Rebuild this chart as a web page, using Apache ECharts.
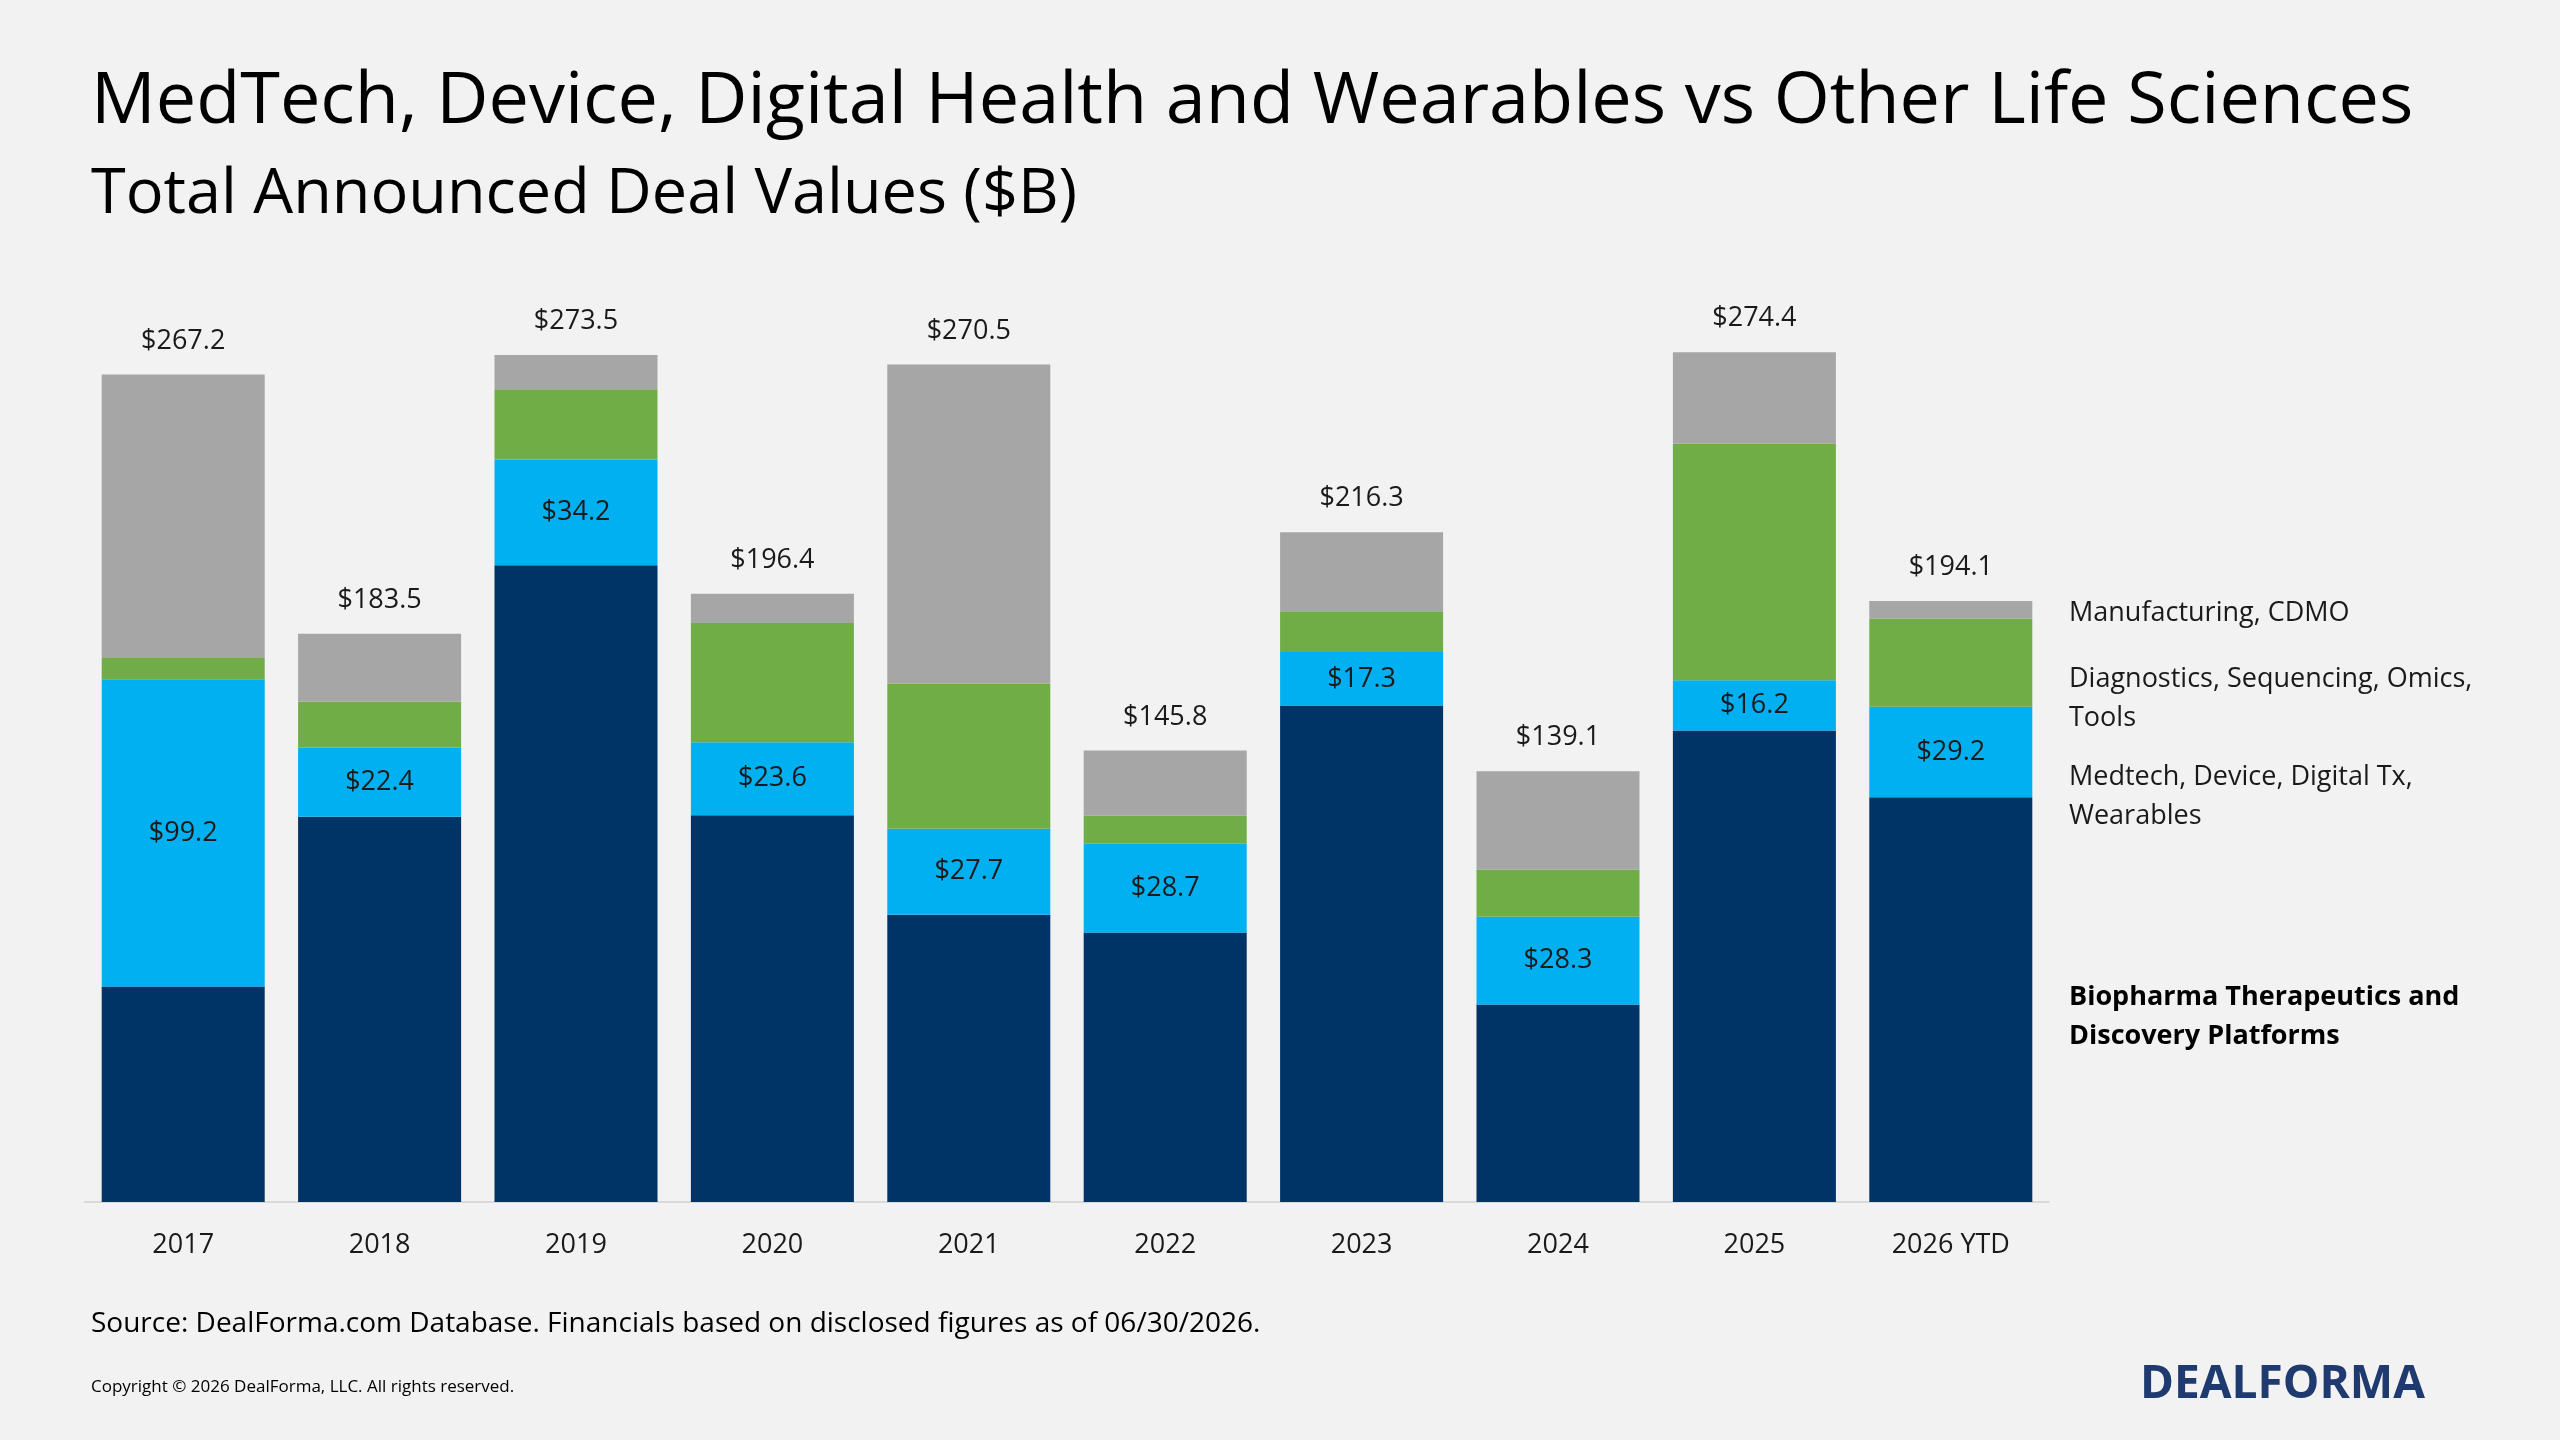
<!DOCTYPE html>
<html><head><meta charset="utf-8">
<script src="https://cdn.jsdelivr.net/npm/echarts@6/dist/echarts.min.js"></script>
<style>html,body{margin:0;background:#f2f2f2}#c{width:2560px;height:1440px}</style>
</head><body><div id="c"></div>
<script>
// data ($B)
const years = ['2017','2018','2019','2020','2021','2022','2023','2024','2025','2026 YTD'];
const biopharma = [69.6,124.4,205.6,124.9,92.8,87.0,160.3,63.8,152.3,130.7];
const medtech = [99.2,22.4,34.2,23.6,27.7,28.7,17.3,28.3,16.2,29.2];
const diagnostics = [6.9,14.8,22.7,38.5,46.9,9.0,13.2,15.3,76.4,28.5];
const manufacturing = [91.5,21.9,11.0,9.4,103.1,21.1,25.5,31.7,29.5,5.7];
const totals = [267.2,183.5,273.5,196.4,270.5,145.8,216.3,139.1,274.4,194.1];

const font = "'Open Sans', Lato, sans-serif";
const chart = echarts.init(document.getElementById('c'));
const lbl = {fontFamily: font, fontSize: 27, color: '#1a1a1a'};

chart.setOption({
  backgroundColor: '#f2f2f2',
  animation: false,
  grid: {left: 85, right: 511, top: 304, bottom: 238},
  xAxis: {
    type: 'category', data: years,
    axisLine: {lineStyle: {color: '#d9d9d9', width: 2}},
    axisTick: {show: false},
    axisLabel: Object.assign({margin: 30}, lbl)
  },
  yAxis: {type: 'value', min: 0, max: 290, show: false},
  series: [
    {name: 'Biopharma', type: 'bar', stack: 't', data: biopharma, barCategoryGap: '17%',
     itemStyle: {color: '#003366'}},
    {name: 'Medtech', type: 'bar', stack: 't', data: medtech, itemStyle: {color: '#00b0f0'},
     label: Object.assign({show: true, position: 'inside', formatter: p => '$' + p.value.toFixed(1)}, lbl)},
    {name: 'Diagnostics', type: 'bar', stack: 't', data: diagnostics, itemStyle: {color: '#70ad47'}},
    {name: 'Manufacturing', type: 'bar', stack: 't', data: manufacturing, itemStyle: {color: '#a6a6a6'},
     label: Object.assign({show: true, position: 'top', distance: 20,
       formatter: p => '$' + totals[p.dataIndex].toFixed(1)}, lbl)}
  ],
  graphic: [
    {type: 'text', left: 91, top: 66, style: {text: 'MedTech, Device, Digital Health and Wearables vs Other Life Sciences', font: '72px ' + font, fill: '#000'}},
    {type: 'text', left: 91, top: 164, style: {text: 'Total Announced Deal Values ($B)', font: '63px ' + font, fill: '#000'}},
    {type: 'text', left: 2069, top: 600, style: {text: 'Manufacturing, CDMO', font: '27px ' + font, fill: '#1a1a1a'}},
    {type: 'text', left: 2069, top: 660, style: {text: 'Diagnostics, Sequencing, Omics,\nTools', font: '27px ' + font, fill: '#1a1a1a', lineHeight: 39}},
    {type: 'text', left: 2069, top: 758, style: {text: 'Medtech, Device, Digital Tx,\nWearables', font: '27px ' + font, fill: '#1a1a1a', lineHeight: 39}},
    {type: 'text', left: 2069, top: 978, style: {text: 'Biopharma Therapeutics and\nDiscovery Platforms', font: 'bold 27px ' + font, fill: '#000', lineHeight: 39}},
    {type: 'text', left: 91, top: 1310, style: {text: 'Source: DealForma.com Database. Financials based on disclosed figures as of 06/30/2026.', font: '28px ' + font, fill: '#000'}},
    {type: 'text', left: 91, top: 1379, style: {text: 'Copyright © 2026 DealForma, LLC. All rights reserved.', font: '17px ' + font, fill: '#000'}},
    {type: 'text', left: 2140, top: 1362, style: {text: 'DEALFORMA', font: 'bold 46px ' + font, fill: '#1f3a6e'}}
  ]
});
</script></body></html>
